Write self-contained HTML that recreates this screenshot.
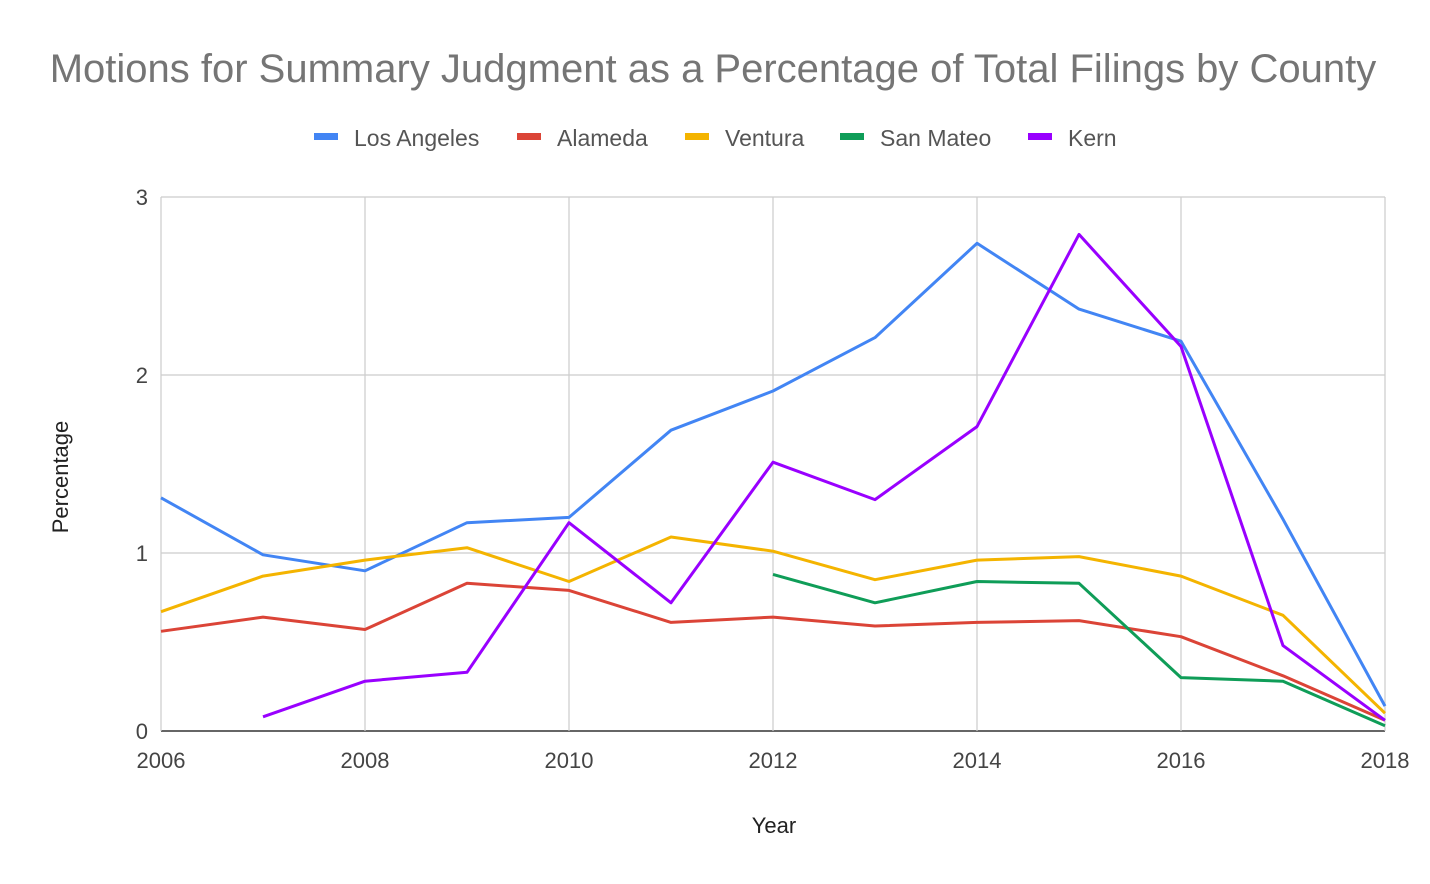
<!DOCTYPE html>
<html><head><meta charset="utf-8"><style>
html,body{margin:0;padding:0;background:#fff;}
svg{display:block;font-family:"Liberation Sans",Arial,sans-serif;}
</style></head><body>
<svg id="chart" width="1430" height="884">
<text x="713" y="82" text-anchor="middle" font-size="40" fill="#757575">Motions for Summary Judgment as a Percentage of Total Filings by County</text>
<g id="legend"></g>
<g id="grid"></g>
<g id="series"></g>
<g id="ticks"></g>
<text x="774" y="833" text-anchor="middle" font-size="22" fill="#222">Year</text>
<text transform="translate(68,477) rotate(-90)" text-anchor="middle" font-size="22" fill="#222">Percentage</text>
</svg>
<script>
const years = [2006,2007,2008,2009,2010,2011,2012,2013,2014,2015,2016,2017,2018];
const seriesNames = ["Los Angeles","Alameda","Ventura","San Mateo","Kern"];
const seriesColors = ["#4285f4","#db4437","#f4b400","#0f9d58","#9900ff"];
const losAngeles = [1.31,0.99,0.90,1.17,1.20,1.69,1.91,2.21,2.74,2.37,2.19,1.19,0.14];
const alameda = [0.56,0.64,0.57,0.83,0.79,0.61,0.64,0.59,0.61,0.62,0.53,0.31,0.06];
const ventura = [0.67,0.87,0.96,1.03,0.84,1.09,1.01,0.85,0.96,0.98,0.87,0.65,0.10];
const sanMateo = [null,null,null,null,null,null,0.88,0.72,0.84,0.83,0.30,0.28,0.03];
const kern = [null,0.08,0.28,0.33,1.17,0.72,1.51,1.30,1.71,2.79,2.16,0.48,0.06];
const yTicks = [0,1,2,3];
const xTicks = [2006,2008,2010,2012,2014,2016,2018];

const NS="http://www.w3.org/2000/svg";
const X0=161,X1=1385,Y0=731,Y1=197;
const xs=v=>X0+(v-2006)/(2018-2006)*(X1-X0);
const ys=v=>Y0-v/3*(Y0-Y1);
function mk(tag,attrs,parent){const e=document.createElementNS(NS,tag);for(const k in attrs)e.setAttribute(k,attrs[k]);parent.appendChild(e);return e;}
const grid=document.getElementById('grid'),ticks=document.getElementById('ticks'),ser=document.getElementById('series'),leg=document.getElementById('legend');
yTicks.forEach(t=>{
  const l=mk('line',{x1:X0,x2:X1,y1:ys(t),y2:ys(t),stroke:t===0?'#333':'#ccc','stroke-width':t===0?1.5:1.2},grid);
  
  
  const tx=mk('text',{x:148,y:ys(t)+8,'text-anchor':'end','font-size':22,fill:'#444'},ticks);
  tx.textContent=t;
  
  
});
xTicks.forEach(t=>{
  const l=mk('line',{x1:xs(t),x2:xs(t),y1:Y1,y2:Y0,stroke:'#ccc','stroke-width':1.2},grid);
  
  
  const tx=mk('text',{x:xs(t),y:768,'text-anchor':'middle','font-size':22,fill:'#444'},ticks);
  tx.textContent=t;
  
  
});
const data=[losAngeles,alameda,ventura,sanMateo,kern];
data.forEach((arr,i)=>{
  let d='',pen=false;
  arr.forEach((v,j)=>{if(v==null){pen=false;return;}d+=(pen?'L':'M')+xs(years[j]).toFixed(1)+','+ys(v).toFixed(1);pen=true;});
  const p=mk('path',{d:d,fill:'none',stroke:seriesColors[i],'stroke-width':3,'stroke-linejoin':'round'},ser);
  
  
});
const legX=[314,517,685,840,1028];
seriesNames.forEach((n,i)=>{
  const g=mk('g',{},leg);
  
  
  mk('rect',{x:legX[i],y:133,width:24,height:7,fill:seriesColors[i]},g);
  const t=mk('text',{x:legX[i]+40,y:146,'font-size':23,fill:'#555'},g);
  t.textContent=n;
});
</script>
</body></html>
